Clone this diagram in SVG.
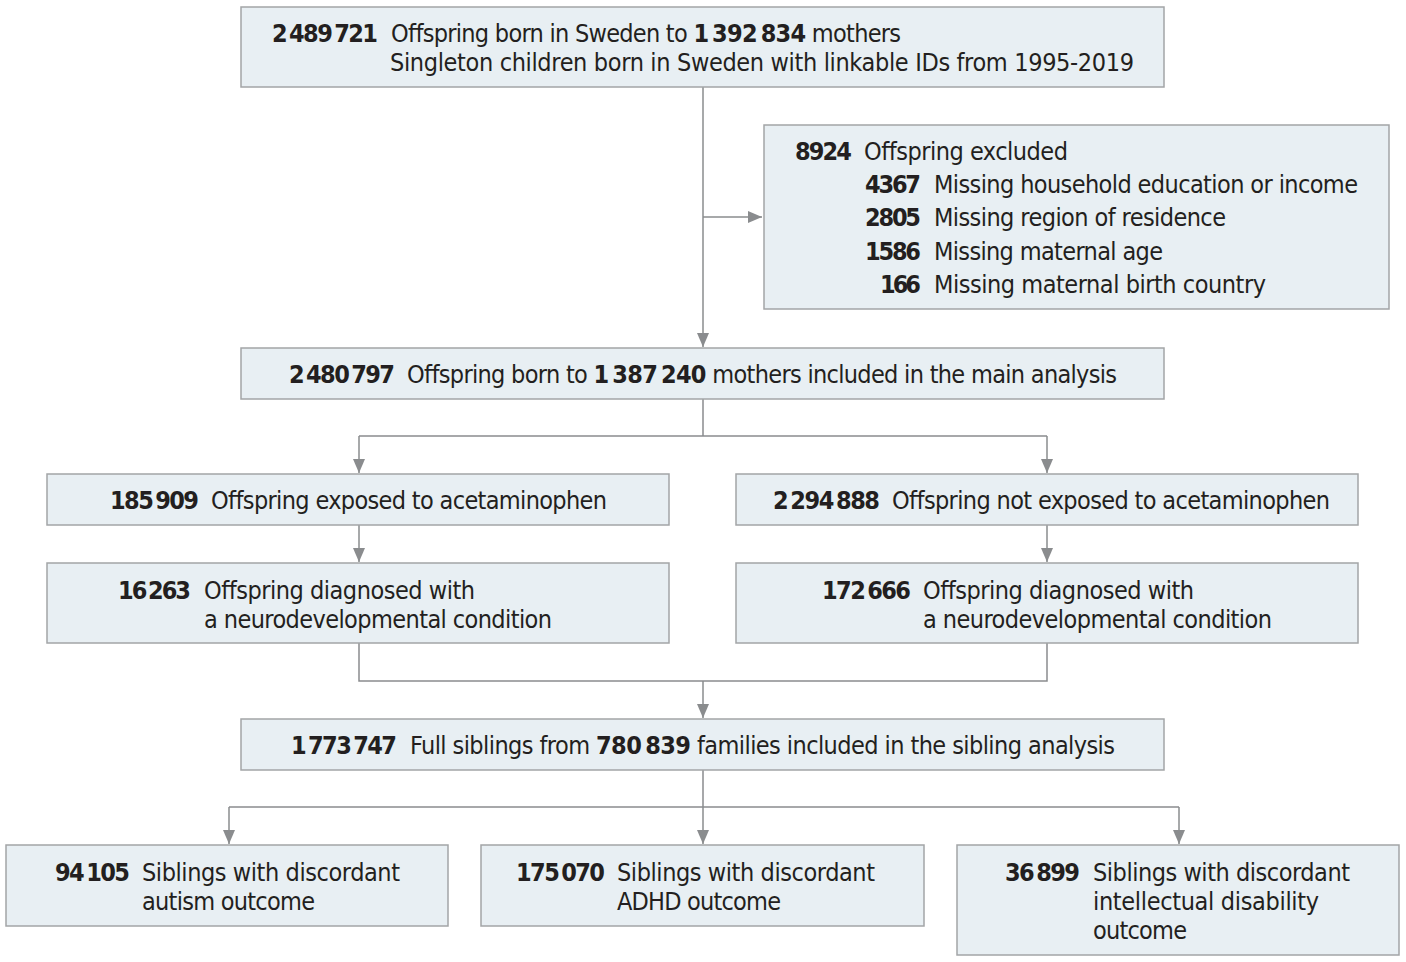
<svg xmlns="http://www.w3.org/2000/svg" width="1406" height="962" viewBox="0 0 1406 962">
<style>
.box{fill:#e8eff3;stroke:#a3a5a7;stroke-width:1.5}
.t{font-family:"Liberation Sans Narrow","DejaVu Sans Condensed","Roboto","Liberation Sans",sans-serif;font-size:25px;fill:#231f20}
.b{font-weight:bold}
.e{text-anchor:end}
.c{fill:none;stroke:#8a8c8e;stroke-width:1.5}
</style>
<defs>
<marker id="ah" markerUnits="userSpaceOnUse" markerWidth="15" markerHeight="14" refX="14" refY="6" orient="auto">
<path d="M0,0 L14,6 L0,12 Z" fill="#8a8c8e"/>
</marker>
</defs>
<rect width="1406" height="962" fill="#ffffff"/>
<g id="connectors">
<path class="c" d="M703 87 V347" marker-end="url(#ah)"/>
<path class="c" d="M703 217 H762" marker-end="url(#ah)"/>
<path class="c" d="M703 399 V436 M359 436 H1047"/>
<path class="c" d="M359 436 V473" marker-end="url(#ah)"/>
<path class="c" d="M1047 436 V473" marker-end="url(#ah)"/>
<path class="c" d="M359 525 V562" marker-end="url(#ah)"/>
<path class="c" d="M1047 525 V562" marker-end="url(#ah)"/>
<path class="c" d="M359 643 V681 H1047 V643"/>
<path class="c" d="M703 681 V718" marker-end="url(#ah)"/>
<path class="c" d="M703 770 V807 M229 807 H1179"/>
<path class="c" d="M229 807 V844" marker-end="url(#ah)"/>
<path class="c" d="M703 807 V844" marker-end="url(#ah)"/>
<path class="c" d="M1179 807 V844" marker-end="url(#ah)"/>
</g>
<g id="n-start">
<rect class="box" x="241" y="7" width="923" height="80"/>
<text class="t b e" x="378" y="42" textLength="106">2&#x2009;489&#x2009;721</text>
<text class="t" x="391" y="42" textLength="510">Offspring born in Sweden to <tspan class="b">1&#x2009;392&#x2009;834</tspan> mothers</text>
<text class="t" x="390" y="71" textLength="744">Singleton children born in Sweden with linkable IDs from 1995-2019</text>
</g>
<g id="n-excluded">
<rect class="box" x="764" y="125" width="625" height="184"/>
<text class="t b e" x="852" y="160" textLength="57">8924</text>
<text class="t" x="864" y="160" textLength="204">Offspring excluded</text>
<text class="t b e" x="921" y="193" textLength="56">4367</text>
<text class="t" x="934" y="193" textLength="424">Missing household education or income</text>
<text class="t b e" x="921" y="226" textLength="56">2805</text>
<text class="t" x="934" y="226" textLength="292">Missing region of residence</text>
<text class="t b e" x="921" y="260" textLength="56">1586</text>
<text class="t" x="934" y="260" textLength="229">Missing maternal age</text>
<text class="t b e" x="921" y="293" textLength="41">166</text>
<text class="t" x="934" y="293" textLength="332">Missing maternal birth country</text>
</g>
<g id="n-main">
<rect class="box" x="241" y="348" width="923" height="51"/>
<text class="t b e" x="395" y="383" textLength="106">2&#x2009;480&#x2009;797</text>
<text class="t" x="407" y="383" textLength="710">Offspring born to <tspan class="b">1&#x2009;387&#x2009;240</tspan> mothers included in the main analysis</text>
</g>
<g id="n-exposed">
<rect class="box" x="47" y="474" width="622" height="51"/>
<text class="t b e" x="199" y="509" textLength="89">185&#x2009;909</text>
<text class="t" x="211" y="509" textLength="396">Offspring exposed to acetaminophen</text>
</g>
<g id="n-unexposed">
<rect class="box" x="736" y="474" width="622" height="51"/>
<text class="t b e" x="880" y="509" textLength="107">2&#x2009;294&#x2009;888</text>
<text class="t" x="892" y="509" textLength="438">Offspring not exposed to acetaminophen</text>
</g>
<g id="n-exposed-ndc">
<rect class="box" x="47" y="563" width="622" height="80"/>
<text class="t b e" x="191" y="599" textLength="73">16&#x2009;263</text>
<text class="t" x="204" y="599" textLength="271">Offspring diagnosed with</text>
<text class="t" x="204" y="628" textLength="348">a neurodevelopmental condition</text>
</g>
<g id="n-unexposed-ndc">
<rect class="box" x="736" y="563" width="622" height="80"/>
<text class="t b e" x="911" y="599" textLength="89">172&#x2009;666</text>
<text class="t" x="923" y="599" textLength="271">Offspring diagnosed with</text>
<text class="t" x="923" y="628" textLength="349">a neurodevelopmental condition</text>
</g>
<g id="n-siblings">
<rect class="box" x="241" y="719" width="923" height="51"/>
<text class="t b e" x="397" y="754" textLength="106">1&#x2009;773&#x2009;747</text>
<text class="t" x="410" y="754" textLength="705">Full siblings from <tspan class="b">780&#x2009;839</tspan> families included in the sibling analysis</text>
</g>
<g id="n-autism">
<rect class="box" x="6" y="845" width="442" height="81"/>
<text class="t b e" x="130" y="881" textLength="75">94&#x2009;105</text>
<text class="t" x="142" y="881" textLength="258">Siblings with discordant</text>
<text class="t" x="142" y="910" textLength="173">autism outcome</text>
</g>
<g id="n-adhd">
<rect class="box" x="481" y="845" width="443" height="81"/>
<text class="t b e" x="605" y="881" textLength="89">175&#x2009;070</text>
<text class="t" x="617" y="881" textLength="258">Siblings with discordant</text>
<text class="t" x="617" y="910" textLength="164">ADHD outcome</text>
</g>
<g id="n-id">
<rect class="box" x="957" y="845" width="442" height="110"/>
<text class="t b e" x="1080" y="881" textLength="75">36&#x2009;899</text>
<text class="t" x="1093" y="881" textLength="257">Siblings with discordant</text>
<text class="t" x="1093" y="910" textLength="226">intellectual disability</text>
<text class="t" x="1093" y="939" textLength="94">outcome</text>
</g>
</svg>
